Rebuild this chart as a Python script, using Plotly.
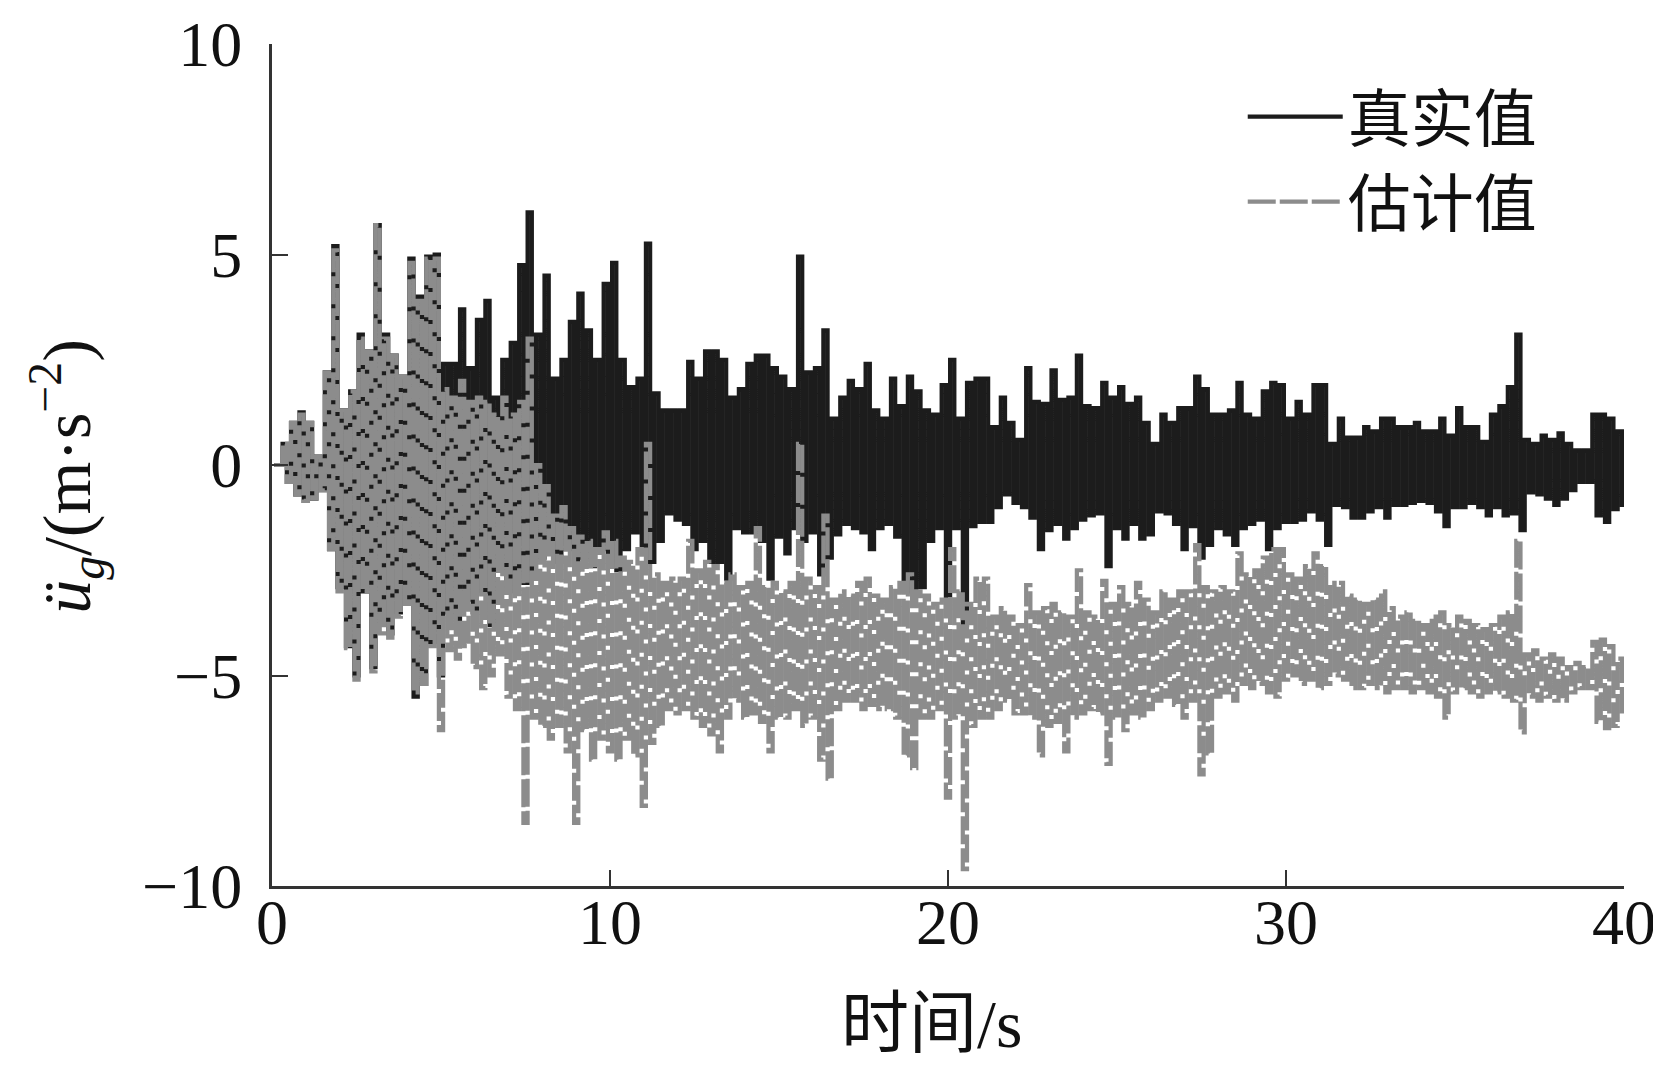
import plotly.graph_objects as go

# Time bins of 0.25 s (start time of each bin), 0 .. 39.75 s
bin_width = 0.25
n_bins = 160

# Per-bin extremes (m/s^2), four bins per second
true_max = [
    0, 0.5, 1.0, 1.25,   1.0, 0.2, 2.2, 5.2,   1.3, 1.75, 3.1, 2.7,   5.7, 3.1, 2.6, 2.1,
    4.9, 4.0, 4.95, 5.0,   2.4, 2.4, 3.7, 2.3,   3.45, 3.9, 1.6, 2.5,   2.9, 4.75, 6.0, 3.1,
    4.5, 2.05, 2.5, 3.4,   4.07, 3.2, 2.5, 4.3,   4.8, 2.5, 1.85, 2.05,   5.26, 1.7, 1.3, 1.3,
    1.3, 2.45, 2.05, 2.7,   2.7, 2.5, 1.6, 1.8,   2.4, 2.6, 2.6, 2.3,   2.1, 1.8, 4.95, 2.2,
    2.3, 3.2, 1.1, 1.6,   2.0, 1.8, 2.4, 1.3,   1.1, 2.05, 1.4, 2.1,   1.75, 1.3, 1.2, 1.9,
    2.5, 1.1, 1.95, 2.05,   2.05, 0.9, 1.6, 1.0,   0.6, 2.3, 1.5, 1.45,   2.25, 1.55, 1.6, 2.6,
    1.4, 1.35, 1.95, 1.6,   1.85, 1.45, 1.6, 1.0,   0.5, 1.2, 1.0, 1.35,   1.35, 2.1, 1.8, 1.2,
    1.2, 1.3, 1.95, 1.2,   1.1, 1.75, 1.95, 1.9,   1.1, 1.5, 1.2, 1.9,   1.9, 0.5, 1.1, 0.65,
    0.65, 0.9, 0.8, 1.1,   1.1, 0.9, 0.9, 1.0,   0.8, 0.8, 1.1, 0.7,   1.35, 0.9, 0.9, 0.55,
    1.2, 1.4, 1.85, 3.1,   0.6, 0.5, 0.7, 0.6,   0.75, 0.5, 0.35, 0.35,   1.2, 1.2, 1.1, 0.8,
]
true_min = [
    0, -0.4, -0.7, -0.85,   -0.8, -0.6, -2.0, -2.9,   -4.3, -5.0, -3.0, -4.8,   -3.8, -4.0, -3.5, -3.2,
    -5.5, -5.2, -4.2, -5.0,   -3.5, -3.8, -3.2, -3.5,   -3.0, -3.8, -2.5, -3.0,   -2.5, -2.8, -2.5, -2.2,
    -2.0, -2.3, -2.0, -2.5,   -2.2, -2.4, -2.0, -2.3,   -2.5, -2.0, -1.6, -2.0,   -2.3, -1.8, -1.15, -1.3,
    -1.4, -2.0, -1.8, -2.3,   -2.3, -2.7, -1.5, -1.6,   -1.6, -1.8, -2.7, -1.7,   -2.1, -1.5, -1.8, -1.6,
    -2.6, -2.2, -1.65, -1.4,   -1.5, -1.6, -2.0, -1.5,   -1.4, -1.7, -3.0, -3.0,   -2.9, -1.8, -1.5, -3.4,
    -1.5, -3.8, -1.45, -1.35,   -1.35, -1.0, -0.7, -0.9,   -1.0, -1.25, -2.0, -1.55,   -1.4, -1.75, -1.5, -1.3,
    -1.2, -1.15, -2.4, -1.5,   -1.75, -1.4, -1.75, -1.65,   -1.1, -1.15, -1.4, -2.0,   -1.45, -2.2, -1.9, -1.5,
    -1.65, -1.9, -1.5, -1.4,   -1.3, -2.0, -1.5, -1.35,   -1.35, -1.3, -1.1, -1.3,   -1.9, -0.95, -1.0, -1.25,
    -1.25, -1.1, -1.0, -1.25,   -0.95, -0.95, -0.9, -0.85,   -0.9, -1.1, -1.45, -1.0,   -1.0, -0.9, -1.0, -1.2,
    -1.0, -1.2, -1.15, -1.55,   -0.65, -0.7, -0.8, -0.95,   -0.8, -0.6, -0.4, -0.4,   -1.2, -1.35, -1.05, -1.0,
]
est_max = [
    0, 0.5, 1.0, 1.2,   1.0, 0.2, 2.2, 5.1,   1.3, 1.75, 3.0, 2.7,   5.7, 3.0, 2.6, 2.1,
    4.8, 3.9, 4.9, 4.9,   1.8, 1.6, 2.0, 1.5,   1.6, 1.5, 1.2, 1.6,   1.2, 1.5, 3.0, 0.0,
    -0.5, -1.2, -1.0, -1.5,   -1.7, -1.8, -2.0, -1.6,   -1.8, -2.2, -2.3, -2.0,   0.5, -2.6, -2.8, -2.7,
    -2.7, -1.8, -2.5, -2.3,   -2.4, -2.8, -2.6, -2.9,   -2.8, -1.5, -2.9, -2.8,   -3.0, -2.8, 0.5, -2.7,
    -2.9, -1.2, -3.2, -3.0,   -3.1, -2.8, -2.7, -3.1,   -3.2, -2.9, -2.8, -2.6,   -3.0, -3.1, -3.3, -3.2,
    -2.0, -3.0, -3.3, -2.7,   -2.7, -3.6, -3.4, -3.6,   -3.8, -2.85, -3.5, -3.4,   -3.3, -3.5, -3.6, -2.5,
    -3.5, -3.6, -2.75, -3.3,   -2.9, -3.3, -2.8, -3.2,   -3.5, -3.0, -3.2, -3.0,   -3.0, -1.9, -2.9, -3.0,
    -2.9, -3.0, -2.1, -2.6,   -2.5, -2.2, -2.0, -2.0,   -2.6, -2.7, -2.4, -2.1,   -2.4, -2.8, -2.8, -3.1,
    -3.2, -3.3, -3.2, -3.0,   -3.4, -3.6, -3.5, -3.7,   -3.8, -3.6, -3.5, -3.8,   -3.6, -3.7, -3.8, -3.9,
    -3.8, -3.6, -3.5, -1.8,   -4.5, -4.4, -4.6, -4.5,   -4.6, -4.8, -4.7, -4.8,   -4.2, -4.15, -4.3, -4.6,
]
est_min = [
    0, -0.4, -0.7, -0.85,   -0.8, -0.6, -2.0, -3.0,   -4.35, -5.1, -3.0, -4.9,   -4.0, -4.1, -3.6, -3.3,
    -5.4, -5.2, -4.3, -6.3,   -4.4, -4.6, -4.3, -4.8,   -5.3, -5.0, -4.5, -5.5,   -5.8, -8.5, -6.0, -6.2,
    -6.5, -6.2, -6.8, -8.5,   -6.3, -7.0, -6.5, -6.8,   -7.0, -6.5, -6.9, -8.1,   -6.6, -6.2, -5.8, -5.9,
    -5.8, -6.0, -6.2, -6.4,   -6.8, -6.0, -5.6, -6.0,   -5.9, -6.1, -6.8, -6.0,   -6.0, -5.8, -6.2, -6.0,
    -7.0, -7.45, -5.8, -5.6,   -5.6, -5.8, -5.7, -5.8,   -5.8, -6.0, -6.9, -7.2,   -6.0, -6.0, -5.8, -7.9,
    -6.0, -9.6, -6.2, -6.0,   -6.0, -5.8, -5.6, -5.9,   -5.9, -6.0, -6.9, -6.2,   -6.1, -6.8, -6.0, -5.9,
    -5.8, -5.9, -7.1, -6.0,   -6.3, -5.9, -6.0, -5.8,   -5.6, -5.5, -5.7, -6.0,   -5.6, -7.35, -6.85, -5.5,
    -5.4, -5.6, -5.2, -5.3,   -5.2, -5.4, -5.5, -5.1,   -5.0, -5.2, -5.1, -5.3,   -5.2, -5.0, -5.1, -5.3,
    -5.3, -5.2, -5.3, -5.4,   -5.3, -5.3, -5.4, -5.3,   -5.4, -5.5, -6.0, -5.4,   -5.3, -5.4, -5.5, -5.4,
    -5.4, -5.5, -5.6, -6.35,   -5.5, -5.6, -5.5, -5.6,   -5.6, -5.4, -5.3, -5.3,   -6.1, -6.25, -6.2, -5.9,
]

x_ticks = [0, 10, 20, 30, 40]
y_ticks = [-10, -5, 0, 5, 10]
series_names = ["真实值", "估计值"]


def trace_xy(vmax, vmin):
    xs, ys = [], []
    for i in range(n_bins):
        t0 = i * bin_width
        xs += [t0 + bin_width * 0.25, t0 + bin_width * 0.75]
        ys += [vmax[i], vmin[i]]
    return xs, ys


xt, yt = trace_xy(true_max, true_min)
xe, ye = trace_xy(est_max, est_min)

serif = "Liberation Serif, Noto Sans CJK SC"

fig = go.Figure()
fig.add_trace(go.Scatter(x=xt, y=yt, mode="lines", name=series_names[0],
                         line=dict(color="rgb(28,28,28)", width=4.2, shape="hv")))
fig.add_trace(go.Scatter(x=xe, y=ye, mode="lines", name=series_names[1],
                         line=dict(color="rgb(140,140,140)", width=4.2, shape="hv",
                                   dash="28px,4px")))

axis_common = dict(showline=True, linewidth=3, linecolor="#333333", mirror=False,
                   showgrid=False, zeroline=False, ticks="inside", ticklen=16,
                   tickwidth=2, tickcolor="#333333",
                   tickfont=dict(family=serif, size=64, color="#111111"))

fig.update_xaxes(range=[0, 40], tickvals=x_ticks, ticklabelstandoff=-22,
                 ticklabeloverflow="allow", **axis_common)
fig.update_yaxes(range=[-10, 10], tickvals=y_ticks, ticklabelstandoff=14, **axis_common)

# page body has an 8px margin; the figure is placed so the plot area lands where the reference has it
fig.update_layout(
    width=1653, height=1065,
    margin=dict(l=264, r=37, t=36, b=187, autoexpand=False),
    plot_bgcolor="white", paper_bgcolor="white",
    showlegend=True,
    legend=dict(x=0.718, y=0.970, xanchor="left", yanchor="top",
                bgcolor="rgba(0,0,0,0)", itemwidth=95,
                font=dict(family=serif, size=63, color="#111111"),
                tracegroupgap=0),
    annotations=[
        dict(text="时间/s", xref="paper", yref="paper", x=0.488, y=-0.164,
             showarrow=False, xanchor="center", yanchor="middle",
             font=dict(family=serif, size=68, color="#111111")),
        dict(text="<i>ü</i><sub><i>g</i></sub>/(m·s<sup>−2</sup>)", xref="paper", yref="paper",
             x=-0.1516, y=0.486, showarrow=False, textangle=-90,
             xanchor="center", yanchor="middle",
             font=dict(family=serif, size=68, color="#111111")),
    ],
)

fig.write_html("out.html")
